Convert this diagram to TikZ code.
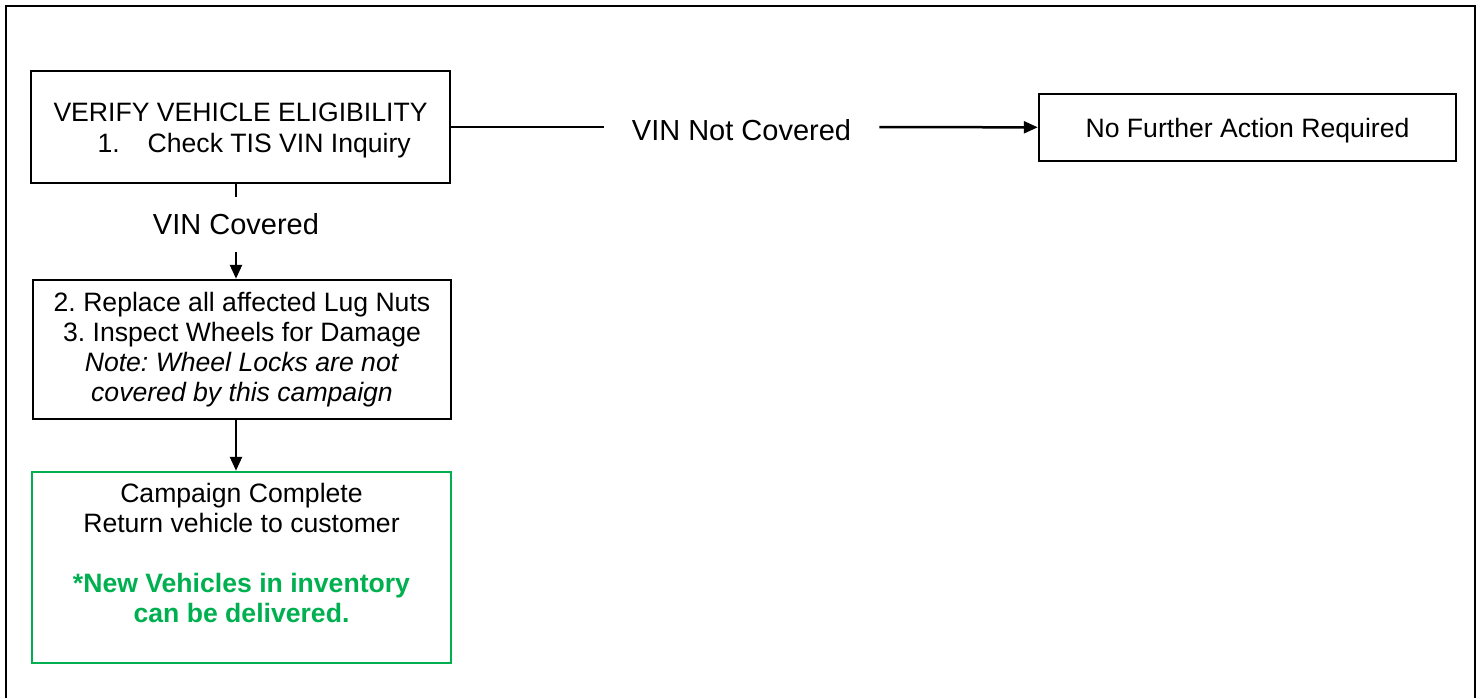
\documentclass[tikz,border=0pt]{standalone}
\usepackage{fontspec}
\setmainfont{Liberation Sans}
\usetikzlibrary{arrows.meta}
\definecolor{campgreen}{RGB}{0,176,80}
\newcommand{\topgap}[1]{\rule{0pt}{#1}}
\frenchspacing

\begin{document}
\begin{tikzpicture}[x=0.5pt, y=-0.5pt, >={Triangle[length=7pt, width=6pt]},
  box/.style={draw, line width=1.25pt, rectangle, inner sep=0pt, align=center,
    font=\fontsize{13.3}{15}\selectfont},
  lbl/.style={inner sep=0pt, font=\fontsize{14.5}{16}\selectfont},
  link/.style={line width=1.25pt}]
  \useasboundingbox (0,0) rectangle (1481,698);
  \draw[line width=1.25pt] (6,698) -- (6,6) -- (1475,6) -- (1475,698);

  % boxes
  \node[box, align=left, minimum width=209.5pt, minimum height=56pt,
    font=\fontsize{13.3}{15.5}\selectfont] (verify) at (240.5,127)
    {\topgap{13pt}VERIFY VEHICLE ELIGIBILITY\\\hspace*{22pt}1.\hspace{14pt}Check TIS VIN Inquiry};
  \node[box, minimum width=208.5pt, minimum height=33.5pt] (nfa) at (1247.5,127.5)
    {\topgap{13pt}No Further Action Required};
  \node[box, minimum width=209pt, minimum height=69.5pt] (replace) at (242,349.5)
    {2. Replace all affected Lug Nuts\\3. Inspect Wheels for Damage\\
     \textit{Note: Wheel Locks are not}\\\textit{covered by this campaign}};
  \node[box, draw=campgreen, minimum width=209.5pt, minimum height=95.5pt] (done) at (241.5,567.5)
    {\topgap{14pt}Campaign Complete\\Return vehicle to customer\\[15pt]
     {\color{campgreen}\bfseries *New Vehicles in inventory}\\
     {\color{campgreen}\bfseries can be delivered.}\\\strut};

  % labels on the links
  \node[lbl, minimum height=27.5pt] (cov) at (236,224.5) {VIN Covered};
  \node[lbl, minimum width=137.5pt] (ncov) at (741.5,127) {\topgap{14pt}VIN Not Covered};

  % links
  \draw[link] (verify) -- (ncov);
  \draw[link, ->] (ncov) -- (nfa);
  \draw[link] (verify.south -| cov) -- (cov.north);
  \draw[link, ->] (cov.south) -- (replace.north -| cov);
  \draw[link, ->] (replace.south -| cov) -- (done.north -| cov);
\end{tikzpicture}
\end{document}
